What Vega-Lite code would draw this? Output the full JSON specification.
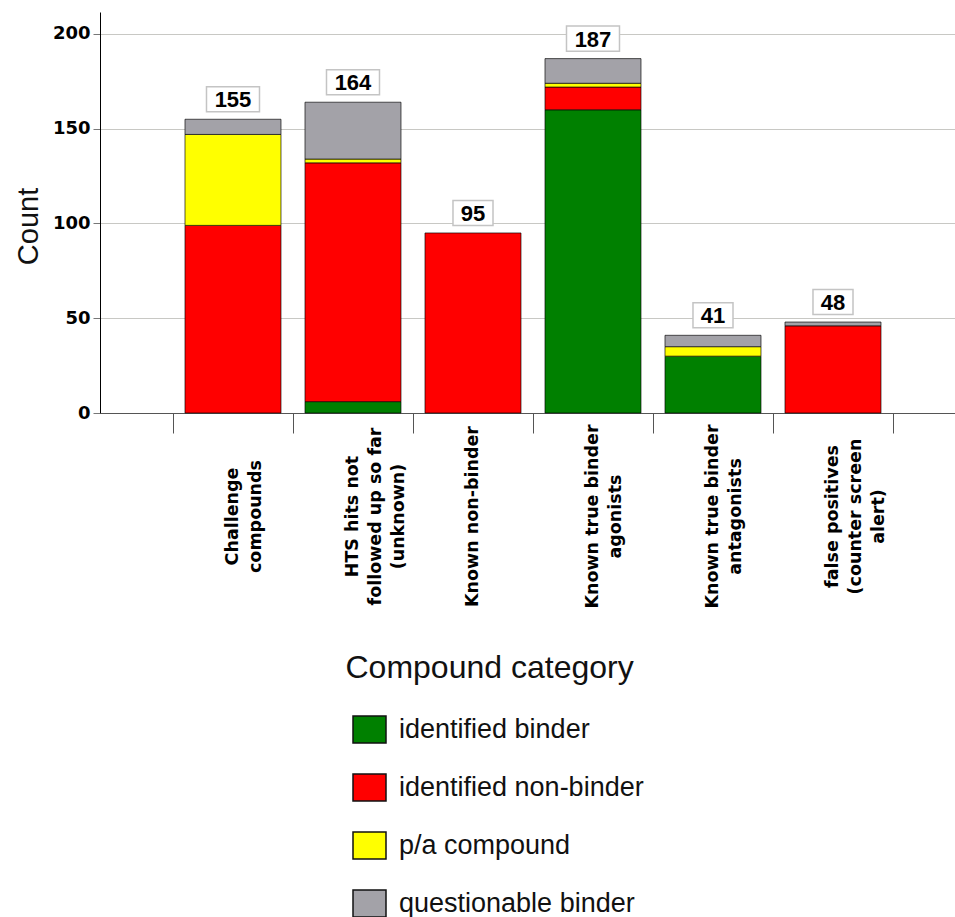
{
  "$schema": "https://vega.github.io/schema/vega-lite/v6.json",
  "width": 855,
  "height": 401,
  "autosize": {"type": "none"},
  "padding": {"left": 100, "top": 12, "right": 0, "bottom": 504},
  "background": "white",
  "config": {"view": {"stroke": null}},
  "data": {
    "values": [
      {"category": "Challenge compounds", "status": "identified non-binder", "count": 99},
      {"category": "Challenge compounds", "status": "p/a compound", "count": 48},
      {"category": "Challenge compounds", "status": "questionable binder", "count": 8},
      {"category": "HTS hits not followed up so far (unknown)", "status": "identified binder", "count": 6},
      {"category": "HTS hits not followed up so far (unknown)", "status": "identified non-binder", "count": 126},
      {"category": "HTS hits not followed up so far (unknown)", "status": "p/a compound", "count": 2},
      {"category": "HTS hits not followed up so far (unknown)", "status": "questionable binder", "count": 30},
      {"category": "Known non-binder", "status": "identified non-binder", "count": 95},
      {"category": "Known true binder agonists", "status": "identified binder", "count": 160},
      {"category": "Known true binder agonists", "status": "identified non-binder", "count": 12},
      {"category": "Known true binder agonists", "status": "p/a compound", "count": 2},
      {"category": "Known true binder agonists", "status": "questionable binder", "count": 13},
      {"category": "Known true binder antagonists", "status": "identified binder", "count": 30},
      {"category": "Known true binder antagonists", "status": "p/a compound", "count": 5},
      {"category": "Known true binder antagonists", "status": "questionable binder", "count": 6},
      {"category": "false positives (counter screen alert)", "status": "identified non-binder", "count": 46},
      {"category": "false positives (counter screen alert)", "status": "questionable binder", "count": 2}
    ]
  },
  "encoding": {
    "x": {
      "field": "category",
      "type": "nominal",
      "sort": ["Challenge compounds", "HTS hits not followed up so far (unknown)", "Known non-binder", "Known true binder agonists", "Known true binder antagonists", "false positives (counter screen alert)"],
      "scale": {"paddingInner": 0, "paddingOuter": 0.5625, "align": 0.5407},
      "axis": {
        "title": "Compound category",
        "titleX": 245,
        "titleY": 264,
        "titleAlign": "left",
        "titleAnchor": "start",
        "titleBaseline": "alphabetic",
        "titleFont": "Liberation Sans",
        "titleFontSize": 32,
        "titleFontWeight": "normal",
        "titleColor": "#111111",
        "labelAngle": -90,
        "labelAlign": "center",
        "labelBaseline": "middle",
        "labelFont": "DejaVu Sans",
        "labelFontWeight": "bold",
        "labelFontSize": 17.5,
        "labelLineHeight": 23,
        "labelPadding": 83,
        "labelColor": "#000000",
        "labelLimit": 0,
        "labelOverlap": false,
        "labelExpr": "{'Challenge compounds':['Challenge','compounds'],'HTS hits not followed up so far (unknown)':['HTS hits not','followed up so far','(unknown)'],'Known non-binder':['Known non-binder'],'Known true binder agonists':['Known true binder','agonists'],'Known true binder antagonists':['Known true binder','antagonists'],'false positives (counter screen alert)':['false positives','(counter screen','alert)']}[datum.value]",
        "tickBand": "extent",
        "tickSize": 20,
        "tickColor": "#555555",
        "domainColor": "#555555",
        "grid": false
      }
    }
  },
  "layer": [
    {
      "mark": {"type": "bar", "width": {"band": 0.8}, "stroke": "black", "strokeOpacity": 0.65, "strokeWidth": 1},
      "encoding": {
        "y": {
          "field": "count",
          "type": "quantitative",
          "stack": "zero",
          "scale": {"domain": [0, 211.6], "nice": false},
          "axis": {
            "title": "Count",
            "titleX": -63,
            "titleY": 214,
            "titleAngle": -90,
            "titleAlign": "center",
            "titleBaseline": "alphabetic",
            "titleFont": "Liberation Sans",
            "titleFontSize": 29,
            "titleFontWeight": "normal",
            "titleColor": "#111111",
            "values": [0, 50, 100, 150, 200],
            "labelFont": "DejaVu Sans",
            "labelFontWeight": "bold",
            "labelFontSize": 18,
            "labelColor": "#000000",
            "labelPadding": 3,
            "tickSize": 7,
            "tickColor": "#777777",
            "domainColor": "#000000",
            "grid": true,
            "gridColor": "#c8c8c4",
            "gridWidth": 1.2
          }
        },
        "color": {
          "field": "status",
          "type": "nominal",
          "scale": {
            "domain": ["identified binder", "identified non-binder", "p/a compound", "questionable binder"],
            "range": ["#008000", "#ff0000", "#ffff00", "#a3a2a8"]
          },
          "legend": {
            "orient": "none",
            "legendX": 252,
            "legendY": 700,
            "title": null,
            "direction": "vertical",
            "padding": 0,
            "symbolType": "M-1,-0.818L1,-0.818L1,0.818L-1,0.818Z",
            "symbolSize": 1089,
            "symbolStrokeColor": "#111111",
            "symbolStrokeWidth": 1.5,
            "symbolOpacity": 1,
            "labelFont": "Liberation Sans",
            "labelFontSize": 27,
            "labelOffset": 12,
            "labelColor": "#111111",
            "labelLimit": 0,
            "rowPadding": 24
          }
        },
        "order": {"field": "status", "sort": "ascending"}
      }
    },
    {
      "transform": [{"aggregate": [{"op": "sum", "field": "count", "as": "total"}], "groupby": ["category"]}],
      "mark": {"type": "point", "filled": true, "fill": "white", "stroke": "#c4c4c4", "strokeWidth": 1.5, "opacity": 1, "size": 2809, "yOffset": -20},
      "encoding": {
        "y": {"field": "total", "type": "quantitative"},
        "shape": {
          "condition": {"test": "datum.total >= 100", "value": "M-1,-0.472L1,-0.472L1,0.472L-1,0.472Z"},
          "value": "M-0.755,-0.472L0.755,-0.472L0.755,0.472L-0.755,0.472Z"
        }
      }
    },
    {
      "transform": [{"aggregate": [{"op": "sum", "field": "count", "as": "total"}], "groupby": ["category"]}],
      "mark": {"type": "text", "font": "Liberation Sans", "fontWeight": "bold", "fontSize": 22, "baseline": "middle", "align": "center", "color": "black", "yOffset": -19},
      "encoding": {
        "y": {"field": "total", "type": "quantitative"},
        "text": {"field": "total", "type": "quantitative"}
      }
    }
  ]
}
